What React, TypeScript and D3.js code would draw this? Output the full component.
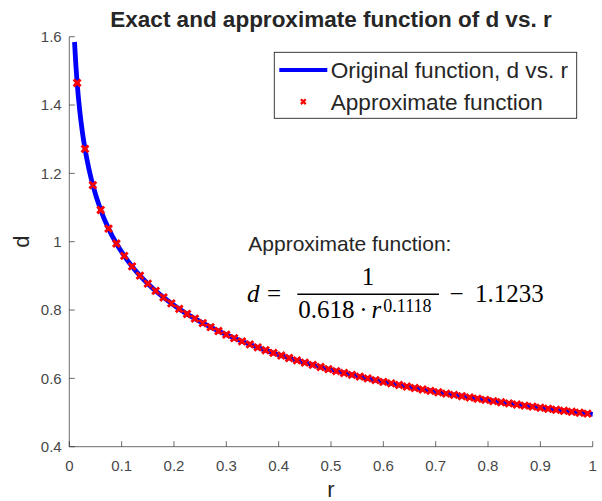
import React from "react";
import * as d3 from "d3";

const lineR = [0.01, 0.0125, 0.015, 0.02, 0.025, 0.03, 0.0375, 0.045, 0.06, 0.075, 0.09, 0.105, 0.12, 0.135, 0.15, 0.18, 0.21, 0.24, 0.27, 0.3, 0.36, 0.42, 0.48, 0.54, 0.6, 0.66, 0.72, 0.78, 0.84, 0.9, 0.96, 1.0];
const lineD = [1.5845, 1.5177, 1.4645, 1.3825, 1.3208, 1.2715, 1.2125, 1.1654, 1.0929, 1.0383, 0.9947, 0.9585, 0.9277, 0.9008, 0.8771, 0.8367, 0.8033, 0.7747, 0.7499, 0.7279, 0.6906, 0.6596, 0.6332, 0.6102, 0.5899, 0.5718, 0.5554, 0.5404, 0.5267, 0.514, 0.5022, 0.4948];

const markerR = [0.015, 0.03, 0.045, 0.06, 0.075, 0.09, 0.105, 0.12, 0.135, 0.15, 0.165, 0.18, 0.195, 0.21, 0.225, 0.24, 0.255, 0.27, 0.285, 0.3, 0.315, 0.33, 0.345, 0.36, 0.375, 0.39, 0.405, 0.42, 0.435, 0.45, 0.465, 0.48, 0.495, 0.51, 0.525, 0.54, 0.555, 0.57, 0.585, 0.6, 0.615, 0.63, 0.645, 0.66, 0.675, 0.69, 0.705, 0.72, 0.735, 0.75, 0.765, 0.78, 0.795, 0.81, 0.825, 0.84, 0.855, 0.87, 0.885, 0.9, 0.915, 0.93, 0.945, 0.96, 0.975, 0.99];
const markerD = [1.4645, 1.2715, 1.1654, 1.0929, 1.0383, 0.9947, 0.9585, 0.9277, 0.9008, 0.8771, 0.8559, 0.8367, 0.8193, 0.8033, 0.7885, 0.7747, 0.7619, 0.7499, 0.7386, 0.7279, 0.7179, 0.7083, 0.6993, 0.6906, 0.6824, 0.6745, 0.6669, 0.6596, 0.6526, 0.6459, 0.6395, 0.6332, 0.6272, 0.6213, 0.6157, 0.6102, 0.6049, 0.5998, 0.5948, 0.5899, 0.5852, 0.5806, 0.5761, 0.5718, 0.5675, 0.5634, 0.5593, 0.5554, 0.5515, 0.5477, 0.544, 0.5404, 0.5369, 0.5334, 0.53, 0.5267, 0.5234, 0.5202, 0.5171, 0.514, 0.511, 0.508, 0.5051, 0.5022, 0.4994, 0.4966];

const xTicks = [0, 0.1, 0.2, 0.3, 0.4, 0.5, 0.6, 0.7, 0.8, 0.9, 1];
const xTickLabels = ["0", "0.1", "0.2", "0.3", "0.4", "0.5", "0.6", "0.7", "0.8", "0.9", "1"];
const yTicks = [0.4, 0.6, 0.8, 1.0, 1.2, 1.4, 1.6];
const yTickLabels = ["0.4", "0.6", "0.8", "1", "1.2", "1.4", "1.6"];

const titleText = "Exact and approximate function of d vs. r";
const legendLabels = ["Original function, d vs. r", "Approximate function"];

const W = 602, H = 501;
const L = 69.3, R = 592.7, T = 36.7, B = 446.7;
const SANS = "'Liberation Sans', Arial, Helvetica, sans-serif";
const SERIF = "'Liberation Serif', 'Times New Roman', serif";
const AX = "#262626";

function xMark(cx: number, cy: number, s: number) {
  return `M${cx - s},${cy - s}L${cx + s},${cy + s}M${cx - s},${cy + s}L${cx + s},${cy - s}`;
}

export default function App() {
  const x = d3.scaleLinear().domain([0, 1]).range([L, R]);
  const y = d3.scaleLinear().domain([0.4, 1.6]).range([B, T]);
  const line = d3
    .line<number>()
    .x((_, i) => x(lineR[i]))
    .y((d) => y(d))
    .curve(d3.curveMonotoneX);
  const markersPath = markerR.map((r, i) => xMark(x(r), y(markerD[i]), 3.4)).join("");

  return (
    <svg width={W} height={H} style={{ position: "absolute", left: 0, top: 0, background: "#fff" }}>
      <rect x={0} y={0} width={W} height={H} fill="#fff" />
      {/* title */}
      <text x={331} y={26.7} textAnchor="middle" fontFamily={SANS} fontWeight="bold" fontSize={22.5} fill={AX}>
        {titleText}
      </text>
      {/* axes */}
      <line x1={L} x2={R} y1={B} y2={B} stroke={AX} strokeWidth={0.9} opacity={0.75} />
      <line x1={L} x2={L} y1={T} y2={B} stroke={AX} strokeWidth={0.9} opacity={0.75} />
      {xTicks.map((t, i) => (
        <g key={"xt" + i}>
          <line x1={x(t)} x2={x(t)} y1={B} y2={B - 5.5} stroke={AX} strokeWidth={0.9} opacity={0.75} />
          <text x={x(t)} y={470.8} textAnchor="middle" fontFamily={SANS} fontSize={15} fill={AX} opacity={0.85}>
            {xTickLabels[i]}
          </text>
        </g>
      ))}
      {yTicks.map((t, i) => (
        <g key={"yt" + i}>
          <line x1={L} x2={L + 5.5} y1={y(t)} y2={y(t)} stroke={AX} strokeWidth={0.9} opacity={0.75} />
          <text x={61.7} y={y(t) + 5.4} textAnchor="end" fontFamily={SANS} fontSize={15} fill={AX} opacity={0.85}>
            {yTickLabels[i]}
          </text>
        </g>
      ))}
      <text x={331} y={497} textAnchor="middle" fontFamily={SANS} fontSize={22} fill={AX}>
        r
      </text>
      <text
        transform={`translate(28.5,${(T + B) / 2}) rotate(-90)`}
        textAnchor="middle"
        fontFamily={SANS}
        fontSize={22}
        fill={AX}
      >
        d
      </text>
      {/* data */}
      <path d={line(lineD) || ""} fill="none" stroke="#0000ff" strokeWidth={4.8} />
      <path d={markersPath} fill="none" stroke="#ff0000" strokeWidth={2.9} />
      {/* annotation */}
      <text x={248.3} y={250.5} fontFamily={SANS} fontSize={21} fill={AX}>
        Approximate function:
      </text>
      <g fontFamily={SERIF} fill="#000" fontSize={25}>
        <text x={247} y={301.7} fontStyle="italic">d</text>
        <text x={267} y={301.7}>=</text>
        <text x={368} y={284.5} textAnchor="middle">1</text>
        <line x1={297.3} x2={439} y1={294.3} y2={294.3} stroke="#000" strokeWidth={1.6} />
        <text x={298.3} y={317.5}>0.618</text>
        <text x={363.3} y={317.5} textAnchor="middle">·</text>
        <text x={371.5} y={317.5} fontStyle="italic">r</text>
        <text x={383.3} y={311.5} fontSize={18}>0.1118</text>
        <text x={449.5} y={301.7}>−</text>
        <text x={475} y={301.7}>1.1233</text>
      </g>
      {/* legend */}
      <rect x={274.3} y={52.3} width={302.4} height={66} fill="#fff" stroke={AX} strokeWidth={0.9} opacity={1} />
      <line x1={279.3} x2={327.3} y1={70} y2={70} stroke="#0000ff" strokeWidth={4.2} />
      <path d={xMark(303.3, 101.7, 2.4)} fill="none" stroke="#ff0000" strokeWidth={2.2} />
      <text x={330.7} y={78} fontFamily={SANS} fontSize={22.6} fill={AX}>
        {legendLabels[0]}
      </text>
      <text x={330.7} y={109.7} fontFamily={SANS} fontSize={22.6} fill={AX}>
        {legendLabels[1]}
      </text>
    </svg>
  );
}
